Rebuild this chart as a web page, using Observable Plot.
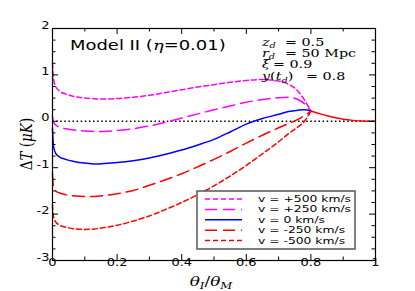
<!DOCTYPE html>
<html><head><meta charset="utf-8">
<script src="https://cdn.jsdelivr.net/npm/d3@7"></script>
<script src="https://cdn.jsdelivr.net/npm/@observablehq/plot@0.6"></script>
<style>
body{margin:0;background:#fff;}
#wrap{width:415px;height:291px;overflow:hidden;}
</style></head><body><div id="wrap"></div>
<script>
// ---- data ----
const xs = [0, 0.002, 0.005, 0.01, 0.02, 0.04, 0.07, 0.1, 0.13, 0.16, 0.2, 0.25, 0.3, 0.35, 0.4, 0.45, 0.5, 0.55, 0.6, 0.65, 0.7, 0.73, 0.76, 0.78, 0.8];
const vPos500 = [1.25, 1.0, 0.85, 0.75, 0.66, 0.59, 0.53, 0.5, 0.485, 0.48, 0.49, 0.52, 0.56, 0.62, 0.68, 0.74, 0.79, 0.84, 0.88, 0.9, 0.87, 0.8, 0.65, 0.46, 0.22];
const vPos250 = [0.1, 0.02, -0.04, -0.08, -0.12, -0.16, -0.19, -0.21, -0.22, -0.22, -0.2, -0.16, -0.1, -0.02, 0.07, 0.16, 0.25, 0.33, 0.41, 0.47, 0.51, 0.52, 0.47, 0.38, 0.22];
const vZero = [-0.15, -0.45, -0.6, -0.69, -0.76, -0.82, -0.87, -0.9, -0.92, -0.91, -0.89, -0.85, -0.79, -0.71, -0.62, -0.51, -0.39, -0.23, -0.06, 0.06, 0.15, 0.21, 0.24, 0.25, 0.22];
const vNeg250 = [-1.12, -1.35, -1.45, -1.5, -1.54, -1.58, -1.61, -1.62, -1.62, -1.6, -1.56, -1.49, -1.38, -1.26, -1.13, -0.98, -0.82, -0.65, -0.47, -0.3, -0.14, -0.05, 0.04, 0.12, 0.22];
const vNeg500 = [-1.8, -2.0, -2.1, -2.17, -2.23, -2.28, -2.32, -2.33, -2.32, -2.29, -2.24, -2.15, -2.04, -1.9, -1.75, -1.58, -1.39, -1.18, -0.95, -0.7, -0.44, -0.27, -0.12, 0.0, 0.22];
const tailX = [0.8, 0.82, 0.85, 0.88, 0.9, 0.93, 0.96, 1.0];
const tailV = [0.22, 0.18, 0.12, 0.07, 0.045, 0.02, 0.005, 0];

const seriesLabels = ["v = +500 km/s", "v = +250 km/s", "v = 0 km/s", "v = -250 km/s", "v = -500 km/s"];
const seriesValues = [vPos500, vPos250, vZero, vNeg250, vNeg500];
const seriesColors = ["#ff00ff", "#ff00ff", "#0000ff", "#ff0000", "#ff0000"];
const seriesDash = ["5,3", "12,6", null, "12,6", "5,3"];

const xMajor = [0, 0.2, 0.4, 0.6, 0.8, 1];
const xMinor = [0.1, 0.3, 0.5, 0.7, 0.9];
const yMajor = [-3, -2, -1, 0, 1, 2];
const yMinor = [-2.75, -2.5, -2.25, -1.75, -1.5, -1.25, -0.75, -0.5, -0.25, 0.25, 0.5, 0.75, 1.25, 1.5, 1.75];

// ---- layout ----
const W = 415, H = 291, mL = 52, mR = 40, mT = 28, mB = 31;
const iw = W - mL - mR, ih = H - mT - mB;
const SX = 1.3; // horizontal stretch of glyphs in the reference

const tables = seriesValues.map((vals) => xs.map((x, i) => ({x, v: vals[i]})));
const tail = tailX.map((x, i) => ({x, v: tailV[i]}));

const lineMarks = tables.map((t, k) => Plot.line(t, {
  x: "x", y: "v", stroke: seriesColors[k], strokeWidth: 1.5,
  strokeDasharray: seriesDash[k] || undefined, curve: "monotone-x"
}));

const svg = Plot.plot({
  width: W, height: H,
  marginLeft: mL, marginRight: mR, marginTop: mT, marginBottom: mB,
  style: {fontFamily: "DejaVu Sans, sans-serif", fontSize: "10px", background: "#fff", color: "#000"},
  x: {domain: [0, 1]},
  y: {domain: [-3, 2]},
  marks: [
    Plot.ruleY([0], {stroke: "black", strokeWidth: 1.5, strokeDasharray: "1.5,2.6"}),
    ...lineMarks,
    Plot.line(tail, {x: "x", y: "v", stroke: "#ff0000", strokeWidth: 1.5, curve: "monotone-x"}),
    // inward ticks on all four sides
    Plot.tickX(xMajor, {x: d => d, insetTop: ih - 6, stroke: "black"}),
    Plot.tickX(xMajor, {x: d => d, insetBottom: ih - 6, stroke: "black"}),
    Plot.tickX(xMinor, {x: d => d, insetTop: ih - 3.5, stroke: "black"}),
    Plot.tickX(xMinor, {x: d => d, insetBottom: ih - 3.5, stroke: "black"}),
    Plot.tickY(yMajor, {y: d => d, insetRight: iw - 6, stroke: "black"}),
    Plot.tickY(yMajor, {y: d => d, insetLeft: iw - 6, stroke: "black"}),
    Plot.tickY(yMinor, {y: d => d, insetRight: iw - 3.5, stroke: "black"}),
    Plot.tickY(yMinor, {y: d => d, insetLeft: iw - 3.5, stroke: "black"}),
    Plot.axisX({ticks: xMajor, tickSize: 0, tickPadding: 5, label: null, tickFormat: d => String(d)}),
    Plot.axisY({ticks: yMajor, tickSize: 0, tickPadding: 3, label: null, tickFormat: d => String(d)}),
    Plot.frame({stroke: "black", strokeWidth: 1.2})
  ]
});
document.getElementById("wrap").appendChild(svg);

// stretch tick label glyphs horizontally around their anchor
d3.select(svg).selectAll('g[aria-label="x-axis tick label"] text, g[aria-label="y-axis tick label"] text').each(function() {
  const t = d3.select(this);
  const x = +t.attr("x") || 0, y = +t.attr("y") || 0;
  t.attr("x", null).attr("y", null);
  const tr = t.attr("transform") || "";
  t.attr("transform", `${tr} translate(${x},${y}) scale(${SX},1)`);
});

const S = d3.select(svg);
const serif = "DejaVu Serif, serif";
const ann = S.append("g").attr("fill", "black").attr("text-anchor", "start");

// title
{
  const t = ann.append("text").attr("transform", `translate(70,50) scale(1.33,1)`)
    .attr("text-anchor", "start")
    .attr("font-family", "DejaVu Sans, sans-serif").attr("font-size", 13.5);
  t.append("tspan").text("Model II (");
  t.append("tspan").attr("font-family", serif).attr("font-style", "italic").text("η");
  t.append("tspan").text("=0.01)");
}

// parameter block
function mathLine(x, y, parts) {
  const t = ann.append("text").attr("transform", `translate(${x},${y}) scale(${SX},1)`)
    .attr("text-anchor", "start")
    .attr("font-family", serif).attr("font-size", 11);
  parts.forEach(p => {
    const s = t.append("tspan").text(p.t);
    if (p.i) s.attr("font-style", "italic");
    if (p.sub) s.attr("font-size", 7.5).attr("baseline-shift", "-28%");
  });
}
mathLine(262, 45.7, [{t: "z", i: 1}, {t: "d", i: 1, sub: 1}]);
mathLine(285, 45.7, [{t: "= 0.5"}]);
mathLine(262, 56.7, [{t: "r", i: 1}, {t: "d", i: 1, sub: 1}]);
mathLine(285, 56.7, [{t: "= 50 Mpc"}]);
mathLine(262, 67.7, [{t: "ξ", i: 1}]);
mathLine(273, 67.7, [{t: "= 0.9"}]);
mathLine(262, 80, [{t: "y", i: 1}, {t: "("}, {t: "t", i: 1}, {t: "d", i: 1, sub: 1}, {t: ")"}]);
mathLine(306, 80, [{t: "= 0.8"}]);

// y label
{
  const t = ann.append("text").attr("transform", `translate(25,144) scale(${SX},1) rotate(-90)`)
    .attr("font-family", serif).attr("font-size", 13.5).attr("text-anchor", "middle").attr("dominant-baseline", "central");
  t.append("tspan").text("Δ");
  t.append("tspan").attr("font-style", "italic").text("T");
  t.append("tspan").text(" (");
  t.append("tspan").attr("font-style", "italic").text("μK");
  t.append("tspan").text(")");
}
// x label
{
  const t = ann.append("text").attr("transform", `translate(211,286) scale(${SX},1)`)
    .attr("font-family", serif).attr("font-size", 13).attr("font-style", "italic").attr("text-anchor", "middle");
  t.append("tspan").text("θ");
  t.append("tspan").attr("font-size", 9).attr("baseline-shift", "-25%").text("I");
  t.append("tspan").attr("font-style", "normal").text("/");
  t.append("tspan").text("θ");
  t.append("tspan").attr("font-size", 9).attr("baseline-shift", "-25%").text("M");
}

// legend
{
  const g = S.append("g").attr("text-anchor", "start");
  g.append("rect").attr("x", 197).attr("y", 191).attr("width", 158).attr("height", 58)
    .attr("fill", "white").attr("stroke", "#555").attr("stroke-width", 1.5);
  seriesLabels.forEach((lab, k) => {
    const cy = 199 + k * 10.4;
    g.append("line").attr("x1", 205).attr("x2", 242).attr("y1", cy).attr("y2", cy)
      .attr("stroke", seriesColors[k]).attr("stroke-width", 1.5)
      .attr("stroke-dasharray", seriesDash[k] || null);
    g.append("text").attr("transform", `translate(258,${cy}) scale(${SX},1)`)
      .attr("text-anchor", "start")
      .attr("font-family", "DejaVu Sans, sans-serif").attr("font-size", 9.5)
      .attr("dominant-baseline", "central").text(lab);
  });
}
</script></body></html>
